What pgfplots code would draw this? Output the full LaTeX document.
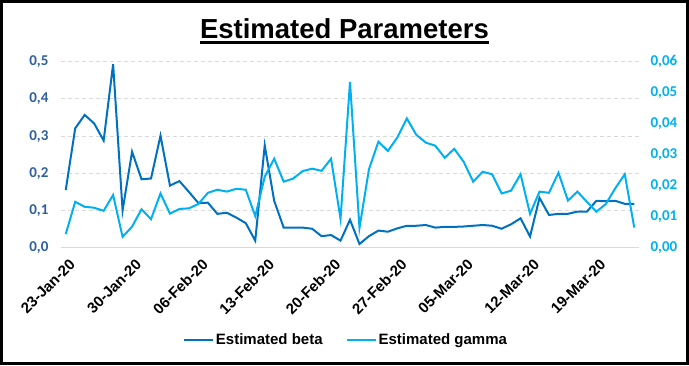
\documentclass[border=0pt]{standalone}
\usepackage{pgfplots}
\pgfplotsset{compat=1.18}
\usepackage{pgfplotstable}
\usepackage{fontspec}
\setmainfont{Liberation Sans}
\newfontfamily\calib{Carlito}
\definecolor{betac}{HTML}{0070C0}
\definecolor{gammac}{HTML}{00B0F0}
\definecolor{leftlab}{HTML}{2E5FA0}
\definecolor{gridc}{HTML}{D9D9D9}

\pgfplotstableread{
d beta
0 0.155
1 0.321
2 0.357
3 0.334
4 0.288
5 0.493
6 0.100
7 0.258
8 0.184
9 0.186
10 0.301
11 0.167
12 0.179
13 0.150
14 0.120
15 0.121
16 0.091
17 0.094
18 0.081
19 0.066
20 0.019
21 0.275
22 0.126
23 0.054
24 0.054
25 0.054
26 0.051
27 0.031
28 0.034
29 0.019
30 0.075
31 0.010
32 0.031
33 0.046
34 0.043
35 0.052
36 0.059
37 0.059
38 0.061
39 0.054
40 0.056
41 0.056
42 0.057
43 0.059
44 0.061
45 0.059
46 0.051
47 0.063
48 0.079
49 0.030
50 0.134
51 0.088
52 0.091
53 0.091
54 0.097
55 0.097
56 0.126
57 0.125
58 0.126
59 0.118
60 0.118
}\betatable

\pgfplotstableread{
d gamma
0 0.0044
1 0.0148
2 0.0132
3 0.0129
4 0.0119
5 0.0170
6 0.0035
7 0.0068
8 0.0124
9 0.0092
10 0.0175
11 0.0110
12 0.0125
13 0.0127
14 0.0141
15 0.0177
16 0.0187
17 0.0181
18 0.0190
19 0.0187
20 0.0102
21 0.0229
22 0.0287
23 0.0213
24 0.0223
25 0.0247
26 0.0255
27 0.0248
28 0.0287
29 0.0093
30 0.0535
31 0.0064
32 0.0253
33 0.0342
34 0.0312
35 0.0356
36 0.0417
37 0.0364
38 0.0339
39 0.0329
40 0.0290
41 0.0319
42 0.0277
43 0.0213
44 0.0245
45 0.0237
46 0.0175
47 0.0184
48 0.0237
49 0.0109
50 0.0181
51 0.0177
52 0.0242
53 0.0152
54 0.0181
55 0.0148
56 0.0116
57 0.0141
58 0.0192
59 0.0237
60 0.0065
}\gammatable

\begin{document}
\begin{tikzpicture}
\useasboundingbox (0pt,0pt) rectangle (689pt,365pt);
\pgfplotsset{common/.style={
  at={(61pt,117.3pt)}, anchor=south west,
  scale only axis, width=578pt, height=186pt,
  xmin=-0.5, xmax=60.5, ymin=0,
  major tick length=0pt,
  scaled y ticks=false,
  /pgf/number format/fixed, /pgf/number format/fixed zerofill,
  /pgf/number format/use comma, /pgf/number format/assume math mode=true,
}}
\begin{axis}[common,
  ymax=0.5, ytick={0,0.1,0.2,0.3,0.4,0.5},
  /pgf/number format/precision=1,
  axis x line*=bottom, axis y line*=left,
  x axis line style={draw=gridc, line width=1pt, -},
  y axis line style={draw=none},
  ymajorgrids, grid style={gridc, line width=0.9pt, dash pattern=on 4pt off 3pt},
  xtick={0,7,14,21,28,35,42,49,56},
  xticklabels={23-Jan-20,30-Jan-20,06-Feb-20,13-Feb-20,20-Feb-20,27-Feb-20,05-Mar-20,12-Mar-20,19-Mar-20},
  x tick label style={rotate=45, anchor=north east, inner sep=0pt, xshift=-5pt, yshift=-9pt,
    font=\fontsize{15}{17}\selectfont\bfseries},
  y tick label style={font=\calib\fontsize{15}{18}\selectfont\bfseries, text=leftlab, xshift=-9pt},
]
\addplot[betac, line width=2pt, no markers] table[x=d, y=beta] {\betatable};
\end{axis}
\begin{axis}[common,
  ymax=0.06, ytick={0,0.01,0.02,0.03,0.04,0.05,0.06},
  /pgf/number format/precision=2,
  axis x line=none, axis y line*=right,
  y axis line style={draw=none},
  y tick label style={font=\calib\fontsize{15}{18}\selectfont\bfseries, text=gammac, xshift=8pt},
  legend style={at={(0.493,-0.496)}, anchor=center, draw=none, fill=none, legend columns=2,
    font=\fontsize{15}{18}\selectfont\bfseries,
    /tikz/every even column/.append style={column sep=22pt},
    nodes={inner sep=1.5pt}},
  legend image code/.code={\draw[#1, line width=2pt] (0pt,0pt) -- (29pt,0pt);},
]
\addlegendimage{betac, line width=2pt}
\addlegendentry{Estimated beta}
\addplot[gammac, line width=2pt, no markers] table[x=d, y=gamma] {\gammatable};
\addlegendentry{Estimated gamma}
\end{axis}
\node[anchor=base, inner sep=0pt, font=\fontsize{27.5}{30}\selectfont\bfseries] (t) at (344.5pt,326.7pt) {Estimated Parameters};
\draw[line width=2.7pt] ([yshift=-4.3pt]t.base west) -- ([yshift=-4.3pt]t.base east);
\draw[line width=3pt] (1.5pt,1.5pt) rectangle (687.5pt,363.5pt);
\end{tikzpicture}
\end{document}
